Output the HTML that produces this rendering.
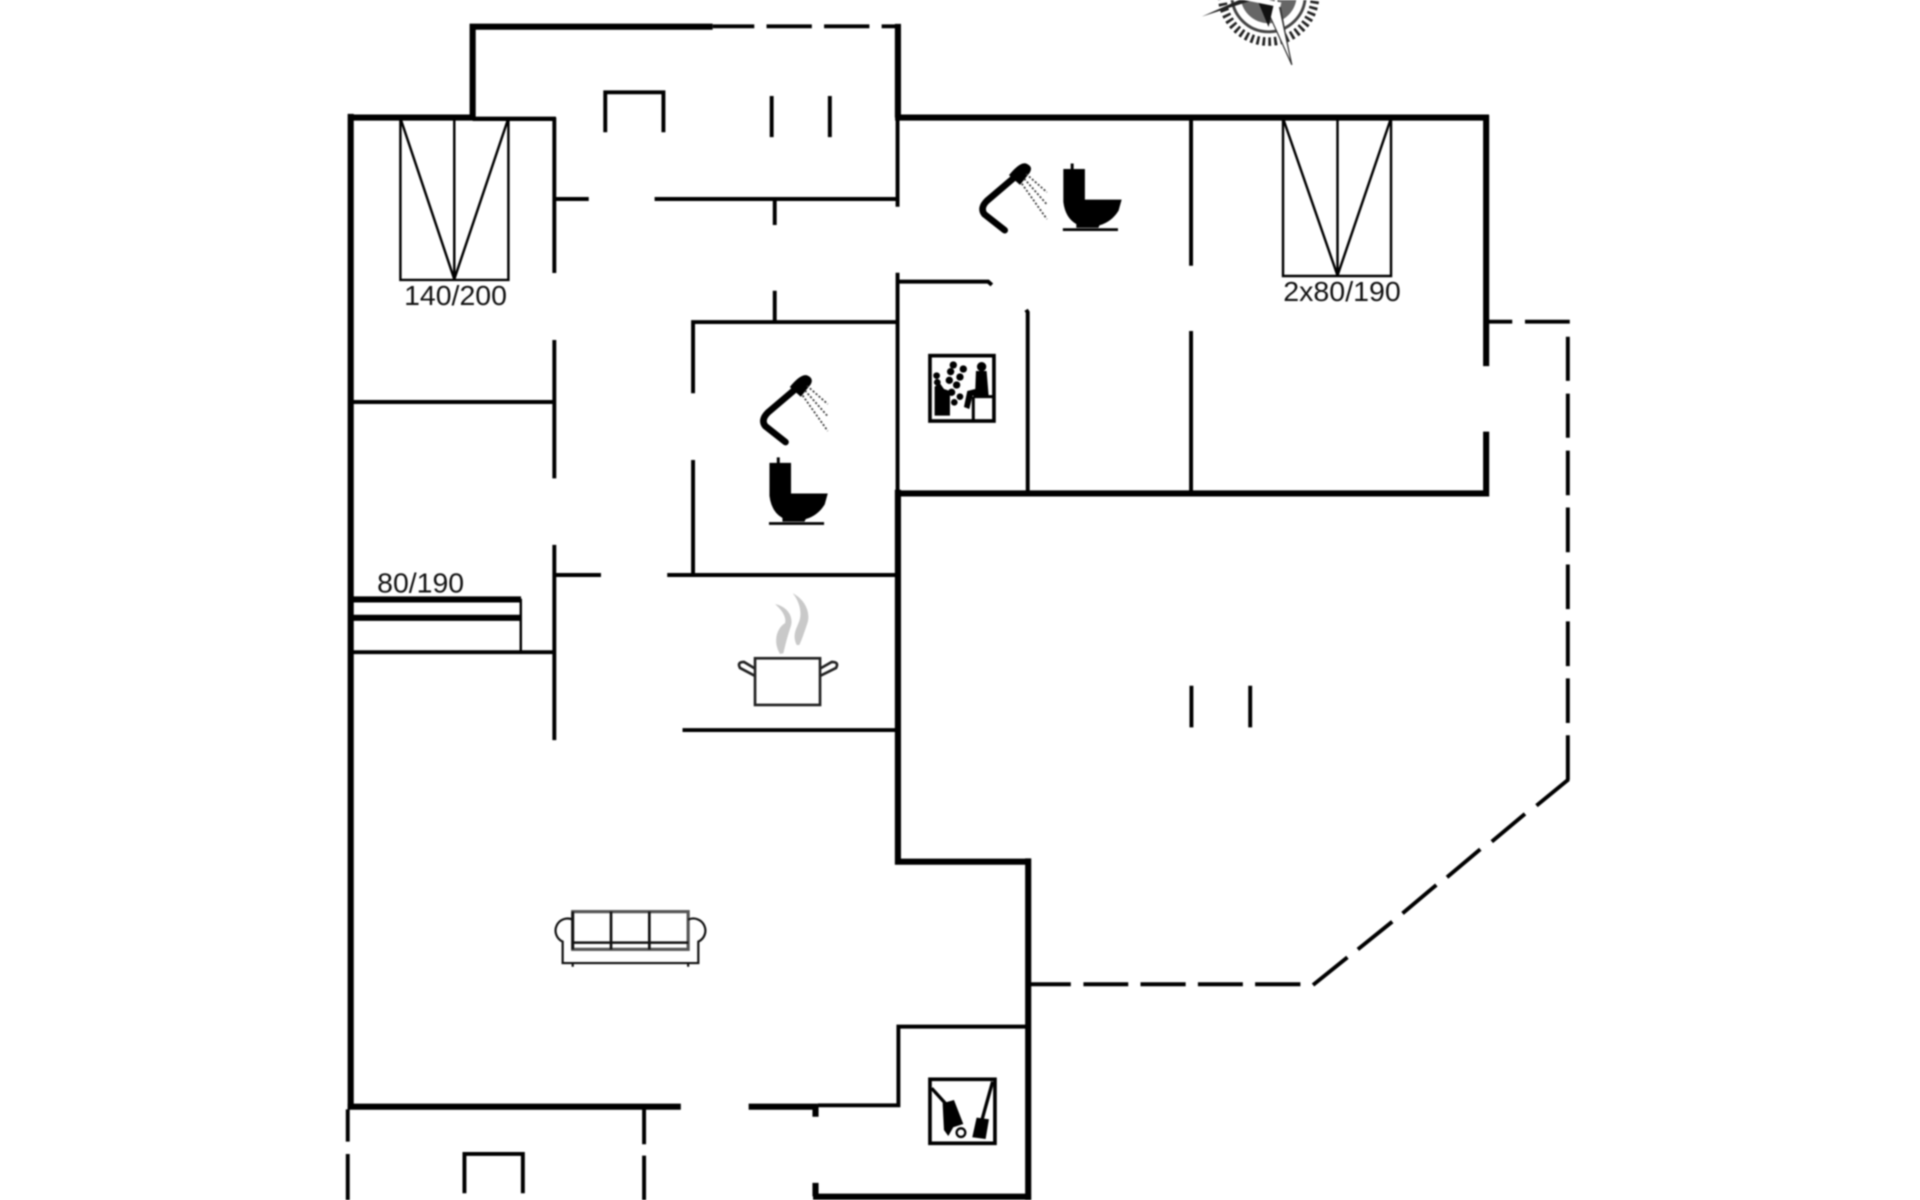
<!DOCTYPE html>
<html><head><meta charset="utf-8"><style>
html,body{margin:0;padding:0;background:#fff;overflow:hidden}
svg{display:block;filter:blur(.7px)}
text{font-family:"Liberation Sans",Arial,sans-serif;fill:#111;font-size:23px}
</style></head><body>
<svg width="1920" height="1200" viewBox="0 0 1568 980" xmlns="http://www.w3.org/2000/svg">
<rect width="1568" height="980" fill="#fff"/>
<!-- thick walls -->
<g fill="none" stroke="#000" stroke-width="5" stroke-linecap="butt" stroke-linejoin="miter">
<path d="M582,21.8H386V96H284M286.4,93V906"/>
<path d="M733.3,19.5V96M731,96H1216M1213.7,94V299M1213.7,352.5V405.5M1216,403H731"/>
<path d="M733.3,400V703.7H842M839.7,701V980"/>
<path d="M284,903.8H556M611.4,903.8H668"/>
<path d="M664,977.3H842"/>
<path d="M666,966V977M666,903V912"/>
<path d="M286,489.5H425.5M286,504.5H425.5"/>
</g>
<!-- thin walls -->
<g fill="none" stroke="#000" stroke-width="3.2">
<path d="M386,97H454" stroke-width="3.6"/>
<path d="M582,21.5H616M626,21.5H663M673,21.5H710M720,21.5H735"/>
<path d="M452.7,96V223M452.7,277.7V390.7M452.7,445V604.4"/>
<path d="M452.7,162.5H480.8M534.6,162.5H733"/>
<path d="M733,95V168.8M733,222.7V402"/>
<path d="M632.7,163V183.7M632.7,237.4V262.7"/>
<path d="M566,321.2V263H733M566,375.7V468"/>
<path d="M733,230H807L810,232.7"/>
<path d="M838,253L839.3,255V403"/>
<path d="M972.7,95V217M972.7,270.3V403"/>
<path d="M286,328.3H453"/>
<path d="M453,469.6H490.8M544.9,469.6H733"/>
<path d="M286,532.6H453"/>
<path d="M557.4,596.2H733"/>
<path d="M668,902.7H733.7V838.4H840"/>
<path d="M284,906V932.3M284,942.4V980"/>
<path d="M526,906V934.5M526,943.8V980"/>
<path d="M379.3,974.5V942.4H427V974.5"/>
<path d="M494.3,108V75.4H541.8V108"/>
<path d="M630.2,78.4V112M677.7,78.4V112"/>
<path d="M973,560V594M1021,560V594"/>
<path d="M1216,262.7H1235M1245.4,262.7H1282"/>
<path d="M1280.4,275V311M1280.4,321.5V357.5M1280.4,368V404.5M1280.4,414.5V451M1280.4,461V497.5M1280.4,507.5V544M1280.4,554V590.5M1280.4,600.5V637"/>
<path d="M1281,636.5L1254.8,657.9M1245.4,664.7L1218.3,687.3M1208.9,693.6L1181.7,716.4M1173,722.7L1145.4,745.9M1137,752.7L1108.9,775.3M1100.4,781.8L1072.3,804.4"/>
<path d="M841.7,803.8H874.5M884.8,803.8H921.4M931.4,803.8H968.3M978.3,803.8H1015M1025,803.8H1062"/>
</g>
<!-- beds -->
<g fill="none" stroke="#000" stroke-width="2">
<path d="M327,97V228.6H415.2V97M371,97V228.6M327.5,98L371,228M414.7,98L371,228"/>
<path d="M1047.8,97V225.4H1136V97M1092.3,97V225.4M1048.3,98L1092.3,225M1135.5,98L1092.3,225"/>
<path d="M425.3,489V532"/>
</g>
<text x="330" y="249" textLength="84" lengthAdjust="spacingAndGlyphs">140/200</text>
<text x="1048" y="246" textLength="96" lengthAdjust="spacingAndGlyphs">2x80/190</text>
<text x="308" y="484" textLength="71" lengthAdjust="spacingAndGlyphs">80/190</text>
<!-- shower+toilet -->
<defs>
<g id="sh">
<path d="M833,141L806,164Q800,170 804,175L820.5,188" fill="none" stroke="#000" stroke-width="5.4" stroke-linejoin="round" stroke-linecap="round"/>
<path d="M824,143Q833,132 838,133.5Q844,136 841,141L833,151Z" fill="#000"/>
<path d="M838,142L855,157M836.5,146L855,167M834.5,150L855,179" fill="none" stroke="#333" stroke-width="1.4" stroke-dasharray="1.6 1.6"/>
</g>
<g id="wc">
<path d="M868.4,138H874.4V133.5H876.8V138H886V163H916L913.5,172Q908,181 898,184L897,186H879V183Q870,178 868.4,165Z" fill="#000"/>
<path d="M868,187.5H913" stroke="#000" stroke-width="2.2"/>
</g>
</defs>
<use href="#sh"/><use href="#wc"/>
<use href="#sh" transform="translate(-179,173)"/><use href="#wc" transform="translate(-240,240)"/>
<!-- sauna -->
<g transform="translate(751.3,281.75) scale(.2722)">
<rect x="30" y="32" width="192" height="196" fill="#fff" stroke="#000" stroke-width="11"/>
<path d="M160,155H222M160,155V228" stroke="#000" stroke-width="9" fill="none"/>
<circle cx="185" cy="65" r="14" fill="#000"/>
<path d="M168,78H200L206,152H158L148,192L132,186L142,138L166,132Z" fill="#000"/>
<path d="M44,125L60,115L72,132L90,138V212H44Z" fill="#000"/>
<g fill="#000"><circle cx="50" cy="92" r="10"/><circle cx="52" cy="112" r="10"/><circle cx="100" cy="60" r="11"/><circle cx="130" cy="72" r="11"/><circle cx="92" cy="80" r="11"/><circle cx="120" cy="96" r="11"/><circle cx="88" cy="106" r="11"/><circle cx="110" cy="120" r="11"/><circle cx="95" cy="142" r="11"/><circle cx="120" cy="155" r="10"/><circle cx="103" cy="172" r="10"/></g>
</g>
<!-- utility -->
<g transform="translate(751.3,873.8) scale(.2722)">
<rect x="30" y="28" width="195" height="192" fill="#fff" stroke="#000" stroke-width="11"/>
<path d="M35,55L78,102M218,35L186,150" stroke="#000" stroke-width="10" fill="none"/>
<path d="M68,100L102,90L130,162L100,172L85,198L72,180Z" fill="#000"/>
<circle cx="123" cy="188" r="13" fill="none" stroke="#000" stroke-width="7"/>
<path d="M170,143L207,148L197,207L157,202Z" fill="#000"/>
</g>
<!-- pot -->
<g transform="translate(596.2,481.8) scale(.2722)">
<path d="M150,192C125,150 145,110 165,100C170,80 155,60 135,42C172,50 192,80 182,110C172,140 167,160 160,190Z" fill="#c9c9c9"/>
<path d="M200,165C183,130 205,110 210,85C215,60 205,30 188,10C227,30 242,70 232,100C222,130 217,145 208,165Z" fill="#c9c9c9"/>
<path d="M75,236L42,216Q20,216 30,234L75,258M270,236L305,216Q328,216 318,234L270,258" fill="#fff" stroke="#222" stroke-width="8"/>
<rect x="75" y="205" width="195" height="140" fill="#fff" stroke="#222" stroke-width="8"/>
</g>
<!-- sofa -->
<g fill="none" stroke="#111" stroke-width="1.8">
<rect x="467.7" y="744.5" width="94.3" height="30.8" stroke="#555" stroke-width="2.6"/>
<path d="M467.7,744.5V775.3M499,744.5V775.3M530.3,744.5V775.3" stroke-width="2.2"/>
<path d="M467.7,769.8H562" stroke-width="2"/>
<path d="M467.7,751A9.8,9.8 0 1 0 459.5,769V786.5H570.3V769A9.8,9.8 0 1 0 562,751"/>
<path d="M467.7,786V789.5M562,786V789.5"/>
</g>
<!-- compass -->
<g>
<circle cx="1036" cy="-4" r="38" fill="none" stroke="#222" stroke-width="7" stroke-dasharray="2.2 2.6"/>
<circle cx="1036" cy="-4" r="33" fill="#fff"/>
<circle cx="1036" cy="-4" r="30" fill="none" stroke="#444" stroke-width="2.4"/>
<circle cx="1036" cy="-4" r="23" fill="#666"/>
<path d="M1036,-4L981.4,13.6L1030,-8Z" fill="#222"/>
<path d="M1036,-4L1055,53L1046,5Z" fill="#333"/>
<path d="M1042,-8L1055,53L1032,2L1039,-8Z" fill="#fff" stroke="#333" stroke-width="1"/>
<path d="M1042,-4L1036,22L1026,-2Z" fill="#111"/>
<path d="M1016,-2L1046,4" stroke="#fff" stroke-width="4"/>
</g>
</svg>
</body></html>
